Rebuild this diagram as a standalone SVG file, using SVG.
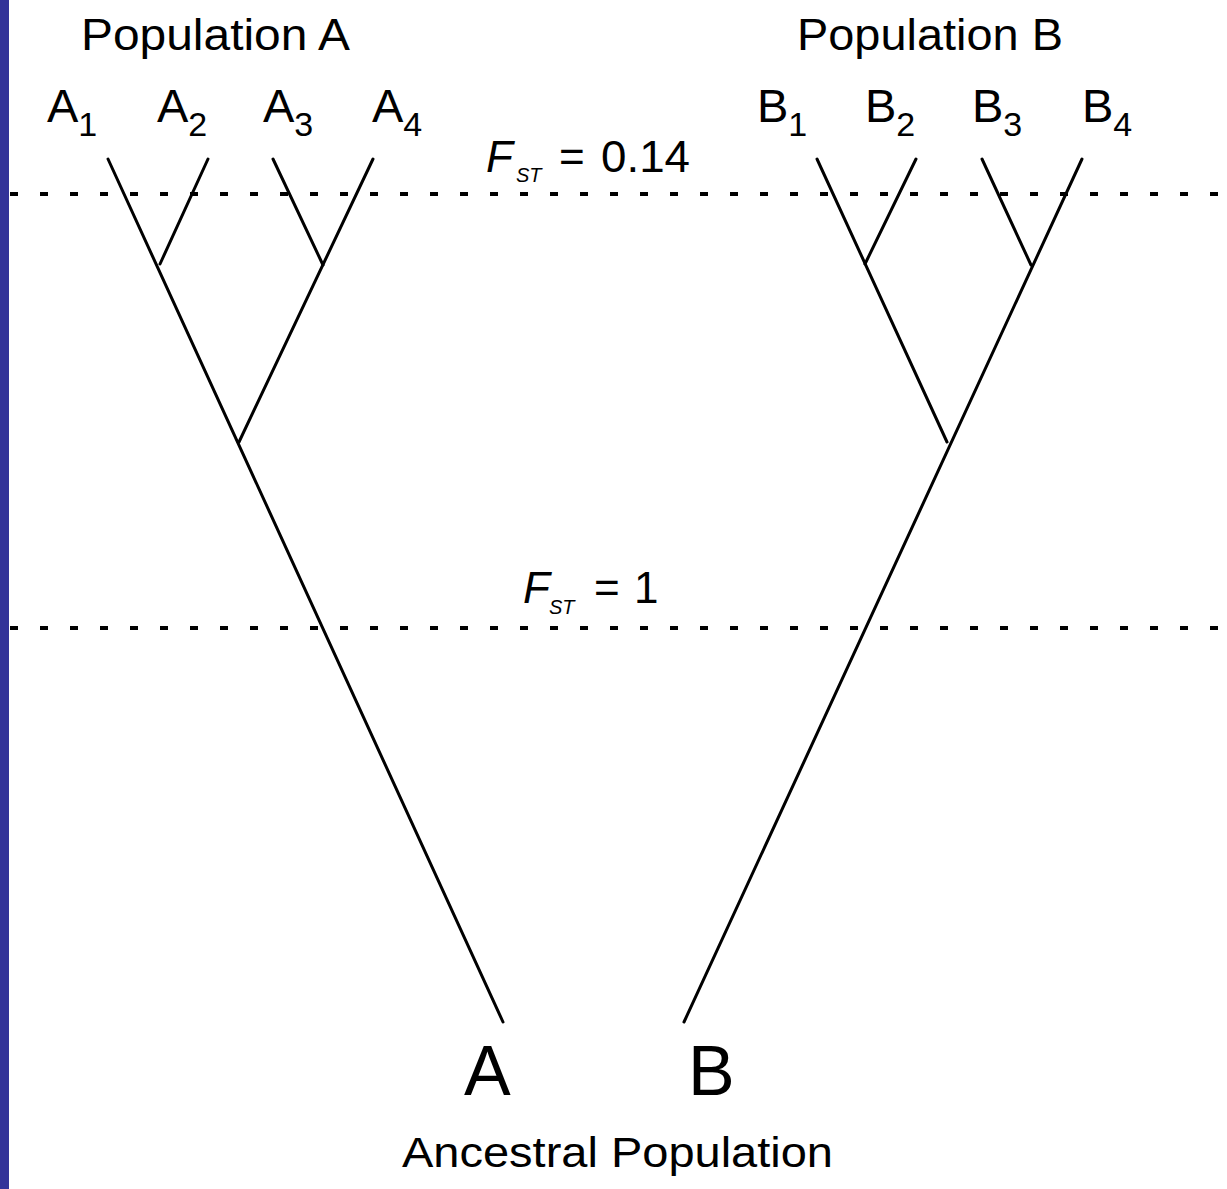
<svg xmlns="http://www.w3.org/2000/svg" width="1227" height="1189" viewBox="0 0 1227 1189">
<style>
.t{font-family:"Liberation Sans",Arial,sans-serif;fill:#000}
.br{stroke:#000;stroke-width:3;fill:none;stroke-linecap:round}
.dl{stroke:#000;stroke-width:4;stroke-dasharray:8 22}
</style>
<rect x="0" y="0" width="1227" height="1189" fill="#fff"/>
<rect x="0" y="0" width="9" height="1189" fill="#333399"/>
<g id="fst-lines">
<line class="dl" x1="10" y1="194" x2="1227" y2="194"/>
<line class="dl" x1="10" y1="628" x2="1227" y2="628"/>
</g>
<g id="connectors">
<line class="br" x1="108" y1="159" x2="503" y2="1022"/>
<line class="br" x1="208" y1="159" x2="160" y2="264"/>
<line class="br" x1="273" y1="159" x2="323" y2="265"/>
<line class="br" x1="373" y1="159" x2="239" y2="442"/>
<line class="br" x1="817" y1="159" x2="947" y2="442"/>
<line class="br" x1="916" y1="159" x2="865" y2="264"/>
<line class="br" x1="982" y1="159" x2="1031" y2="265"/>
<line class="br" x1="1082" y1="159" x2="684" y2="1022"/>
</g>
<g id="popA"><text class="t" x="81" y="50" font-size="45" textLength="269" lengthAdjust="spacingAndGlyphs">Population A</text></g>
<g id="popB"><text class="t" x="797" y="50" font-size="45" textLength="266" lengthAdjust="spacingAndGlyphs">Population B</text></g>
<g id="A1"><text class="t" x="47" y="122" font-size="47">A<tspan font-size="34" dy="14">1</tspan></text></g>
<g id="A2"><text class="t" x="157" y="122" font-size="47">A<tspan font-size="34" dy="14">2</tspan></text></g>
<g id="A3"><text class="t" x="263" y="122" font-size="47">A<tspan font-size="34" dy="14">3</tspan></text></g>
<g id="A4"><text class="t" x="372" y="122" font-size="47">A<tspan font-size="34" dy="14">4</tspan></text></g>
<g id="B1"><text class="t" x="757" y="122" font-size="47">B<tspan font-size="34" dy="14">1</tspan></text></g>
<g id="B2"><text class="t" x="865" y="122" font-size="47">B<tspan font-size="34" dy="14">2</tspan></text></g>
<g id="B3"><text class="t" x="972" y="122" font-size="47">B<tspan font-size="34" dy="14">3</tspan></text></g>
<g id="B4"><text class="t" x="1082" y="122" font-size="47">B<tspan font-size="34" dy="14">4</tspan></text></g>
<g id="fst014"><text class="t" font-size="44"><tspan x="486" y="172" font-style="italic">F</tspan><tspan x="516" y="182" font-style="italic" font-size="20">ST</tspan><tspan x="559" y="172">=</tspan><tspan x="601" y="172" textLength="89" lengthAdjust="spacingAndGlyphs">0.14</tspan></text></g>
<g id="fst1"><text class="t" font-size="44"><tspan x="523" y="603" font-style="italic">F</tspan><tspan x="549" y="614" font-style="italic" font-size="20">ST</tspan><tspan x="594" y="603">=</tspan><tspan x="634" y="603">1</tspan></text></g>
<g id="rootA"><text class="t" x="464" y="1095" font-size="70">A</text></g>
<g id="rootB"><text class="t" x="688" y="1095" font-size="70">B</text></g>
<g id="ancestral"><text class="t" x="402" y="1167" font-size="42" textLength="431" lengthAdjust="spacingAndGlyphs">Ancestral Population</text></g>
</svg>
